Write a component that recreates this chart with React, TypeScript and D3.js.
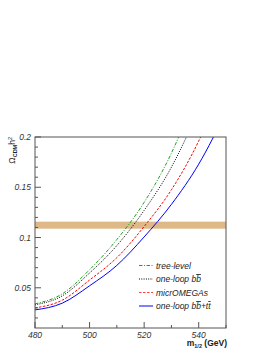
import React from "react";
import * as d3 from "d3";

const massValues = [480, 490, 500, 510, 520, 530, 540, 550];
const treeLevel = [0.034, 0.044, 0.068, 0.098, 0.135, 0.184, 0.25, 0.33];
const oneLoopBB = [0.033, 0.042, 0.0647, 0.092, 0.127, 0.17, 0.228, 0.3];
const micrOMEGAs = [0.03, 0.0377, 0.0577, 0.08, 0.111, 0.1475, 0.196, 0.26];
const oneLoopBBTT = [0.028, 0.0347, 0.052, 0.0723, 0.1006, 0.133, 0.173, 0.225];

const xMajorTicks = [480, 500, 520, 540];
const xMinorTicks = [490, 510, 530, 550];
const yMajorTicks = [0.05, 0.1, 0.15, 0.2];
const yTickLabels = ["0.05", "0.1", "0.15", "0.2"];
const yMinorTicks = [0.02, 0.03, 0.04, 0.06, 0.07, 0.08, 0.09, 0.11, 0.12, 0.13, 0.14, 0.16, 0.17, 0.18, 0.19];
const bandRange = [0.1088, 0.1158];

const W = 272;
const H = 352;
const left = 35;
const right = 226;
const top = 137;
const bottom = 328;

export default function App() {
  const x = d3.scaleLinear().domain([480, 550]).range([left, right]);
  const y = d3.scaleLinear().domain([0.01, 0.2]).range([bottom, top]);
  const line = d3
    .line<number>()
    .x((_, i) => x(massValues[i]))
    .y((d) => y(d))
    .curve(d3.curveMonotoneX);

  const series = [
    { name: "tree-level", data: treeLevel, color: "#22a022", dash: "3.5,1.5,1,1.5", width: 1 },
    { name: "bb", data: oneLoopBB, color: "#000000", dash: "1,1.3", width: 1 },
    { name: "micro", data: micrOMEGAs, color: "#ff0000", dash: "2.5,1.5", width: 1 },
    { name: "bbtt", data: oneLoopBBTT, color: "#0000ff", dash: "", width: 1 },
  ];

  const font = "'Liberation Sans', Arial, Helvetica, sans-serif";
  const axisColor = "#555";
  const legendRows = [265.5, 279, 292.5, 306];
  const legendLegStyle = [
    { color: "#22a022", dash: "3.5,1.5,1,1.5", width: 1 },
    { color: "#000000", dash: "1,1.3", width: 1 },
    { color: "#ff4040", dash: "2.5,1.5", width: 1.2 },
    { color: "#8080ff", dash: "", width: 2 },
  ];
  const ov = { textDecoration: "overline" };

  return (
    <svg
      width={W}
      height={H}
      style={{ position: "absolute", left: 0, top: 0, background: "#fff" }}
      fontFamily={font}
    >
      <defs>
        <clipPath id="plotClip">
          <rect x={left} y={top} width={right - left} height={bottom - top} />
        </clipPath>
      </defs>
      <rect x={0} y={0} width={W} height={H} fill="#fff" />
      <rect
        x={left}
        y={y(bandRange[1])}
        width={right - left}
        height={y(bandRange[0]) - y(bandRange[1])}
        fill="#deb887"
      />
      <g clipPath="url(#plotClip)">
        {series.map((s) => (
          <path
            key={s.name}
            d={line(s.data) || ""}
            fill="none"
            stroke={s.color}
            strokeWidth={s.width}
            strokeDasharray={s.dash || undefined}
          />
        ))}
      </g>
      <rect x={left} y={top} width={right - left} height={bottom - top} fill="none" stroke={axisColor} strokeWidth={1} />
      {xMajorTicks.map((t) => (
        <line key={"xM" + t} x1={x(t)} x2={x(t)} y1={bottom} y2={bottom - 6} stroke={axisColor} />
      ))}
      {xMinorTicks.map((t) => (
        <line key={"xm" + t} x1={x(t)} x2={x(t)} y1={bottom} y2={bottom - 3} stroke={axisColor} />
      ))}
      {xMajorTicks.map((t) => (
        <text key={"xl" + t} x={x(t)} y={338} fontSize={8.5} fontStyle="italic" textAnchor="middle" fill="#333">
          {t}
        </text>
      ))}
      {yMajorTicks.map((t) => (
        <line key={"yM" + t} x1={left} x2={left + 6} y1={y(t)} y2={y(t)} stroke={axisColor} />
      ))}
      {yMinorTicks.map((t) => (
        <line key={"ym" + t} x1={left} x2={left + 3} y1={y(t)} y2={y(t)} stroke={axisColor} />
      ))}
      {yMajorTicks.map((t, i) => (
        <text key={"yl" + t} x={31} y={y(t) + 3} fontSize={8.5} fontStyle="italic" textAnchor="end" fill="#333">
          {yTickLabels[i]}
        </text>
      ))}
      <text x={227} y={346} fontSize={8.5} fontWeight="bold" textAnchor="end" fill="#222">
        m<tspan fontSize={5.5} dy={2}>1/2</tspan><tspan dy={-2}> (GeV)</tspan>
      </text>
      <text transform="translate(15,137) rotate(-90)" fontSize={8.5} textAnchor="end" fill="#222">
        Ω<tspan fontSize={5.5} fontWeight="bold" dy={2}>CDM</tspan><tspan dy={-2}>h</tspan><tspan fontSize={5.5} dy={-3}>2</tspan>
      </text>
      {legendRows.map((ry, i) => (
        <line
          key={"lg" + i}
          x1={139}
          x2={153}
          y1={ry}
          y2={ry}
          stroke={legendLegStyle[i].color}
          strokeWidth={legendLegStyle[i].width}
          strokeDasharray={legendLegStyle[i].dash || undefined}
        />
      ))}
      <g fontSize={8.5} fontStyle="italic" fill="#222">
        <text x={156} y={legendRows[0] + 3}>tree-level</text>
        <text x={156} y={legendRows[1] + 3}>
          {"one-loop b"}<tspan style={ov}>b</tspan>
        </text>
        <text x={156} y={legendRows[2] + 3}>micrOMEGAs</text>
        <text x={156} y={legendRows[3] + 3}>
          {"one-loop b"}<tspan style={ov}>b</tspan>{"+t"}<tspan style={ov}>t</tspan>
        </text>
      </g>
    </svg>
  );
}
